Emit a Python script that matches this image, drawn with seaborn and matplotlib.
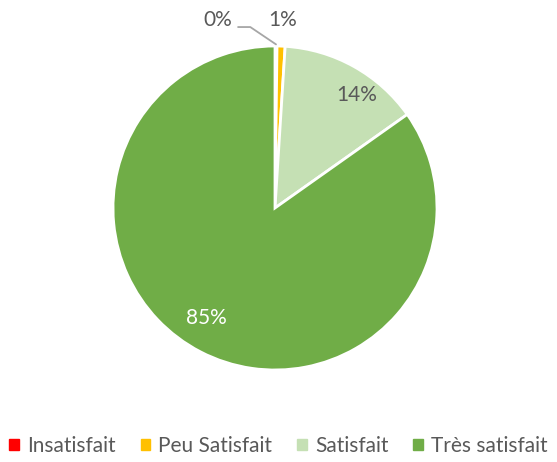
import numpy as np
import seaborn as sns
import matplotlib.pyplot as plt

# données
categories = ['Insatisfait', 'Peu Satisfait', 'Satisfait', 'Très satisfait']
values = [0.2, 0.8, 14.2, 84.8]
labels = ['0%', '1%', '14%', '85%']
colors = ['#FF0000', '#FFC000', '#C5E0B4', '#70AD47']

sns.set_theme(style='white')
plt.rcParams['font.family'] = ['Lato', 'DejaVu Sans']
txt = '#595959'

fig = plt.figure(figsize=(5.57, 4.62), dpi=100)
ax = fig.add_axes([(275 - 162) / 557, (462 - 370) / 462, 324 / 557, 324 / 462])
pal = sns.color_palette(colors)
wedges, _ = ax.pie(values, colors=pal, startangle=90, counterclock=False,
                   wedgeprops=dict(edgecolor='white', linewidth=2))
ax.set_xlim(-1, 1)
ax.set_ylim(-1, 1)
ax.set_aspect('equal')
ax.axis('off')

# étiquettes
fs = 15
for i, w in enumerate(wedges):
    mid = np.deg2rad((w.theta1 + w.theta2) / 2)
    if i == 2:
        r = 0.86
        ax.text(r * np.cos(mid - 0.12), r * np.sin(mid - 0.12), labels[i],
                ha='center', va='center', fontsize=fs, color=txt)
    elif i == 3:
        r = 0.8
        ax.text(r * np.cos(mid - 0.08), r * np.sin(mid - 0.08), labels[i],
                ha='center', va='center', fontsize=fs, color='white')
    elif i == 1:
        ax.text(0.049, 1.16, labels[i], ha='center', va='center', fontsize=fs, color=txt)
    else:
        ax.text(-0.352, 1.16, labels[i], ha='center', va='center', fontsize=fs, color=txt)
        ax.annotate('', xy=(np.cos(mid), 1.01 * np.sin(mid)), xytext=(-0.228, 1.117),
                    annotation_clip=False,
                    arrowprops=dict(arrowstyle='-', color='#A6A6A6', lw=1.3,
                                    shrinkA=0, shrinkB=0,
                                    connectionstyle='angle,angleA=0,angleB=-34,rad=0'))

handles = [plt.Rectangle((0, 0), 1, 1, color=c) for c in pal]
fig.legend(handles, categories, loc='lower center', bbox_to_anchor=(0.5, -0.01),
           ncol=4, frameon=False, fontsize=fs, handlelength=0.45, handleheight=0.45,
           handletextpad=0.4, columnspacing=1.2, labelcolor=txt, borderpad=0)

fig.savefig('out.png', dpi=100)
